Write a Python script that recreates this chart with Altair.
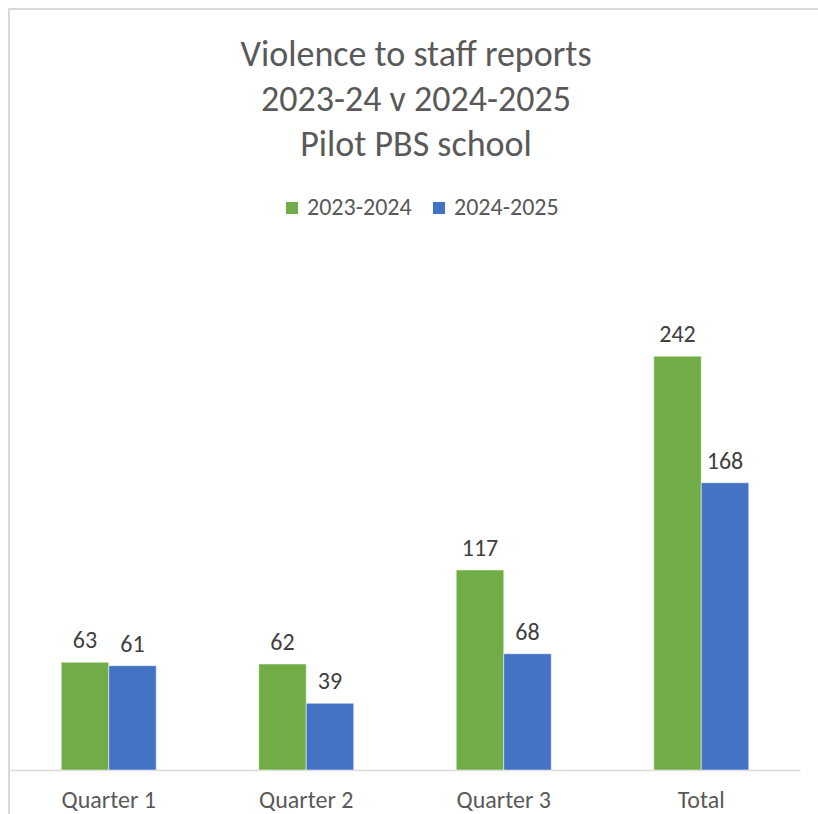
import altair as alt
import pandas as pd

categories = ["Quarter 1", "Quarter 2", "Quarter 3", "Total"]
series = ["2023-2024", "2024-2025"]
values_2023_24 = [63, 62, 117, 242]
values_2024_25 = [61, 39, 68, 168]
colors = ["#70AD47", "#4472C4"]
title_lines = ["Violence to staff reports", "2023-24 v 2024-2025", "Pilot PBS school"]

rows = []
for c, a, b in zip(categories, values_2023_24, values_2024_25):
    rows.append({"category": c, "year": series[0], "value": a})
    rows.append({"category": c, "year": series[1], "value": b})
df = pd.DataFrame(rows)

FONT = "Calibri, Carlito, Lato, sans-serif"
W, H = 790, 513

base = alt.Chart(df).encode(
    x=alt.X("category:N", sort=categories,
            scale=alt.Scale(paddingInner=0.519, paddingOuter=0.2595),
            axis=alt.Axis(title=None, labelAngle=0, ticks=False,
                          domainColor="#D9D9D9", domainWidth=1.5,
                          labelFontSize=24, labelColor="#595959", labelFont=FONT,
                          labelPadding=18)),
    xOffset=alt.XOffset("year:N", sort=series,
                        scale=alt.Scale(paddingInner=0, paddingOuter=0)),
    y=alt.Y("value:Q", scale=alt.Scale(domain=[0, 300]), axis=None),
)

bars = base.mark_bar(stroke="white", strokeWidth=0.5).encode(
    color=alt.Color("year:N", sort=series,
                    scale=alt.Scale(domain=series, range=colors),
                    legend=alt.Legend(title=None, orient="none", legendX=270, legendY=-61,
                                      direction="horizontal", symbolType="square",
                                      symbolSize=144, symbolStrokeWidth=0,
                                      labelFontSize=24, labelColor="#595959", labelFont=FONT,
                                      labelOffset=3, columnPadding=15)),
)

labels = base.mark_text(dy=-9, baseline="bottom", fontSize=24, color="#404040", font=FONT).encode(
    text="value:Q"
)

frame = alt.Chart(pd.DataFrame({"k": [0]})).mark_rect(
    fill=None, stroke="#D9D9D9", strokeWidth=2
).encode(
    x=alt.value(-1), x2=alt.value(840), y=alt.value(-248), y2=alt.value(620)
)

chart = alt.layer(frame, bars, labels).properties(
    width=W, height=H,
    title=alt.TitleParams(text=title_lines, fontSize=36, font=FONT, color="#595959",
                          fontWeight="normal", lineHeight=45, anchor="middle",
                          frame="group", dx=11, offset=-156),
    autosize=alt.AutoSizeParams(type="none"),
    padding={"left": 10, "top": 257, "right": 18, "bottom": 44},
).configure_view(stroke=None)

chart.save("out.html", embed_options={"renderer": "svg", "actions": False})
